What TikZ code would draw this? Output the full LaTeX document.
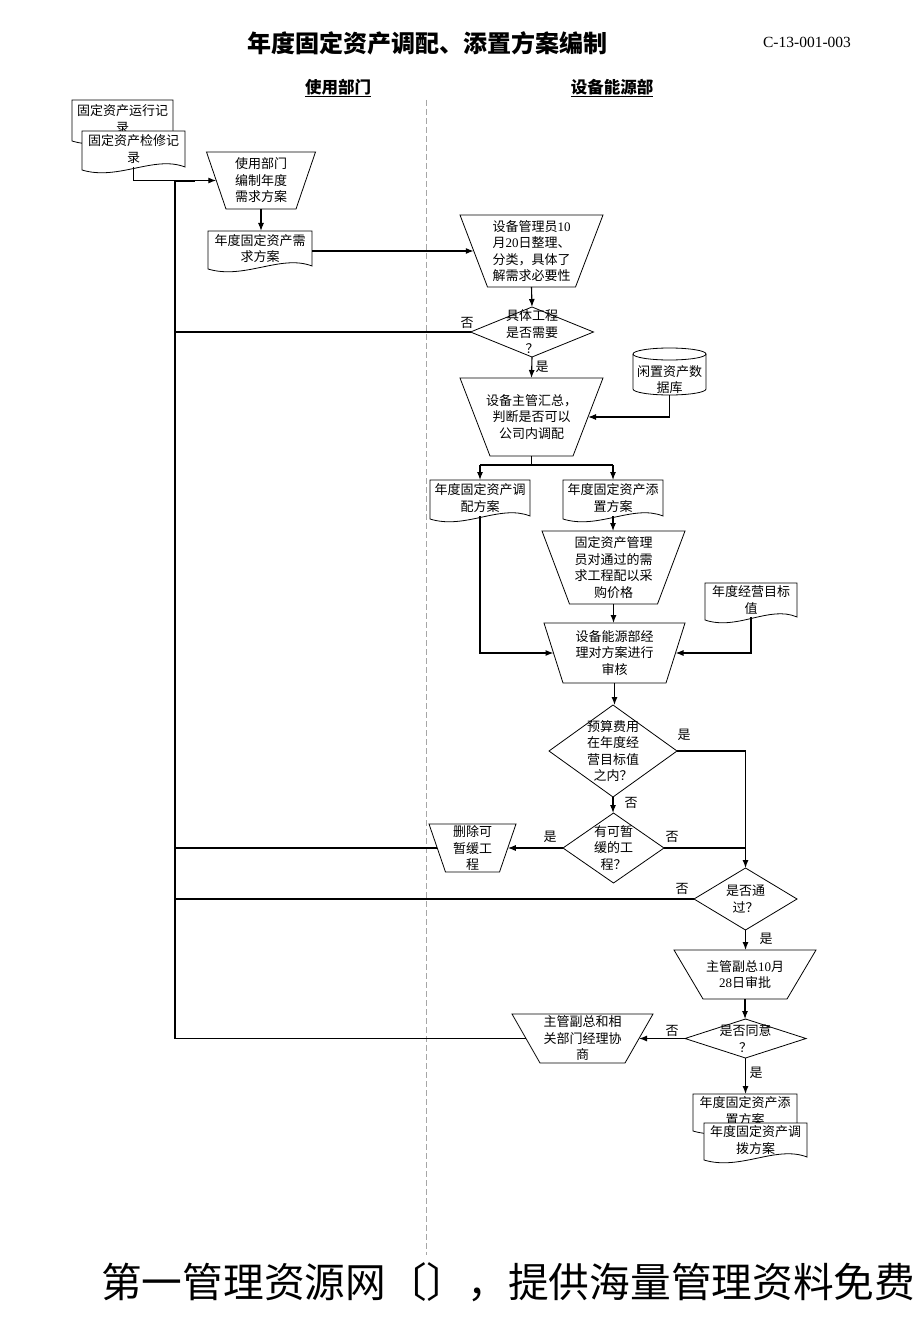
\documentclass[tikz,border=0pt]{standalone}
\usepackage{fontspec}
\setmainfont{Liberation Serif}
\newfontfamily\cjk{Noto Sans CJK SC}
\newfontfamily\latf{Liberation Serif}
\usetikzlibrary{calc,arrows.meta}

\tikzset{
 box/.style={rectangle, draw=none, inner sep=0pt, outer sep=0pt},
 shapeline/.style={draw=black, line width=0.8pt, line join=miter},
 txt/.style={font=\cjk\fontsize{13}{16.5}\selectfont, align=center, inner sep=0pt},
 lbl/.style={font=\cjk\fontsize{13}{15}\selectfont, inner sep=0pt},
 conn/.style={draw=black, line width=1.1pt},
 mainln/.style={draw=black, line width=1.5pt},
 arr/.style={conn, -{Latex[length=8pt,width=6pt]}},
 lane/.style={font=\cjk\bfseries\fontsize{16.5}{20}\selectfont, inner sep=0pt},
}

% name, cx, cy, topw, botw, h, text
\newcommand{\mktrap}[7]{%
 \node[box, minimum width=#4pt, minimum height=#6pt] (#1) at (#2,#3) {};
 \draw[shapeline] (#1.north west) -- (#1.north east) -- ($(#1.south east)+({-(#4-#5)/2},0)$) -- ($(#1.south west)+({(#4-#5)/2},0)$) -- cycle;
 \coordinate (#1-l) at ($(#1.west)+({(#4-#5)/4},0)$);
 \coordinate (#1-r) at ($(#1.east)+({-(#4-#5)/4},0)$);
 \node[txt] (#1-t) at (#1.center) {#7};
}
% name, cx, cy, w, h, text
\newcommand{\mkdoc}[6]{%
 \node[box, minimum width=#4pt, minimum height=#5pt] (#1) at (#2,#3) {};
 \draw[shapeline, fill=white] (#1.north west) -- (#1.north east) -- (#1.south east) .. controls ($(#1.south east)+({-0.3*#4},-12)$) and ($(#1.south west)+({0.35*#4},14)$) .. ($(#1.south west)+(0,3)$) -- cycle;
 \node[txt] (#1-t) at (#1.center) {#6};
}
% name, cx, cy, w, h, text
\newcommand{\mkdiamond}[6]{%
 \node[box, minimum width=#4pt, minimum height=#5pt] (#1) at (#2,#3) {};
 \draw[shapeline] (#1.north) -- (#1.east) -- (#1.south) -- (#1.west) -- cycle;
 \node[txt] (#1-t) at (#1.center) {#6};
}

\begin{document}
\begin{tikzpicture}[x=1pt,y=-1pt]
\fill[white] (0,0) rectangle (920,1329);
\useasboundingbox (0,0) rectangle (920,1329);

% headings
\node[font=\cjk\bfseries\fontsize{24}{28}\selectfont, inner sep=0pt] (title) at (427,43) {年度固定资产调配、添置方案编制};
\node[font=\latf\fontsize{15.5}{18}\selectfont, inner sep=0pt] (code) at (807,42) {C-13-001-003};
\node[lane] (lane1) at (338,88) {\underline{使用部门}};
\node[lane] (lane2) at (612,88) {\underline{设备能源部}};

% lane divider
\coordinate (dvtop) at (426,100);
\coordinate (dvbot) at (426,1255);
\draw[gray!70, line width=0.9pt, dash pattern=on 6pt off 3pt] (dvtop) -- (dvbot);

% shapes
\mkdoc{docA}{122.5}{119}{101}{38}{固定资产运行记\\录}
\mkdoc{docB}{133.5}{149}{103}{36}{固定资产检修记\\录}
\mktrap{t1}{261}{180.5}{109}{70}{57}{使用部门\\编制年度\\需求方案}
\mkdoc{doc3}{260}{248.5}{104}{35}{年度固定资产需\\求方案}
\mktrap{t2}{531.5}{251}{143}{88}{72}{设备管理员{\latf 10}\\月{\latf 20}日整理、\\分类，具体了\\解需求必要性}
\mkdiamond{d1}{532}{332}{123}{50}{具体工程\\是否需要\\？}
\mktrap{t3}{531.5}{417}{143}{83}{78}{设备主管汇总，\\判断是否可以\\公司内调配}
% database
\node[box, minimum width=73pt, minimum height=47pt] (db) at (669.5,371.5) {};
\draw[shapeline] (633,354) -- (633,389) arc[start angle=180, end angle=360, x radius=36.5pt, y radius=6pt] -- (706,354) arc[start angle=0, end angle=180, x radius=36.5pt, y radius=6pt];
\draw[shapeline] (633,354) arc[start angle=180, end angle=360, x radius=36.5pt, y radius=6pt];
\node[txt] (db-t) at (669.5,379.5) {闲置资产数\\据库};

\mkdoc{doc4}{480}{498}{100}{36}{年度固定资产调\\配方案}
\mkdoc{doc5}{613}{498}{100}{36}{年度固定资产添\\置方案}
\mktrap{t4}{613.5}{567.5}{143}{88}{73}{固定资产管理\\员对通过的需\\求工程配以采\\购价格}
\mkdoc{doc6}{751}{600}{92}{34}{年度经营目标\\值}
\mktrap{t5}{614.5}{653}{141}{103}{60}{设备能源部经\\理对方案进行\\审核}
\mkdiamond{d2}{613}{751}{128}{92}{预算费用\\在年度经\\营目标值\\之内？}
\mkdiamond{d3}{613.5}{848}{101}{70}{有可暂\\缓的工\\程？}
\mktrap{t6}{472.5}{848}{87}{54}{48}{删除可\\暂缓工\\程}
\mkdiamond{d4}{745.5}{899}{103}{62}{是否通\\过？}
\mktrap{t7}{745}{974.5}{142}{84}{49}{主管副总{\latf 10}月\\{\latf 28}日审批}
\mkdiamond{d5}{745.5}{1038.5}{121}{39}{是否同意\\？}
\mktrap{t8}{582.5}{1038.5}{141}{85}{49}{主管副总和相\\关部门经理协\\商}
\mkdoc{doc7}{745}{1111}{104}{34}{年度固定资产添\\置方案}
\mkdoc{doc8}{755.5}{1140}{103}{34}{年度固定资产调\\拨方案}

% main return line
\coordinate (mtop) at (175,181);
\coordinate (mbot) at (175,1038.5);
\draw[mainln] (mtop) -- (mbot);

% connectors
\draw[arr] (docB.south) |- (t1-l);
\draw[mainln] (mtop) -- ($(mtop)+(20,0)$);
\draw[arr] (t1.south) -- (t1.south |- doc3.north);
\draw[arr] (doc3.east |- t2-l) -- (t2-l);
\draw[arr] (t2.south) -- (d1.north);
\draw[conn] (d1.west) -- (d1.west -| mtop);
\draw[arr] (d1.south) -- (t3.north);
\draw[arr] (db.south) |- (t3-r);
\coordinate (sp) at (531.5,465);
\draw[conn] (t3.south) -- (sp);
\draw[conn] (doc4.north |- sp) -- (doc5.north |- sp);
\draw[arr] (doc4.north |- sp) -- (doc4.north);
\draw[arr] (doc5.north |- sp) -- (doc5.north);
\draw[arr] (doc5.south) -- (doc5.south |- t4.north);
\draw[arr] (t4.south) -- (t4.south |- t5.north);
\draw[arr] (doc4.south) |- (t5-l);
\draw[arr] (doc6.south) |- (t5-r);
\draw[arr] (t5.south) -- (t5.south |- d2.north);
\draw[arr] (d2.east) -| (d4.north);
\draw[arr] (d2.south) -- (d2.south |- d3.north);
\draw[conn] (d3.east) -- (d3.east -| d4.north);
\draw[arr] (d3.west) -- (t6-r);
\draw[conn] (t6-l) -- (t6-l -| mtop);
\draw[conn] (d4.west) -- (d4.west -| mtop);
\draw[arr] (d4.south) -- (d4.south |- t7.north);
\draw[arr] (t7.south) -- (t7.south |- d5.north);
\draw[arr] (d5.west) -- (t8-r);
\draw[conn] (t8-l) -- (mbot);
\draw[arr] (d5.south) -- (d5.south |- doc7.north);

% labels
\node[lbl] (l1) at (467,323) {否};
\node[lbl] (l2) at (542,367) {是};
\node[lbl] (l3) at (684,735) {是};
\node[lbl] (l4) at (631,803) {否};
\node[lbl] (l5) at (672,837) {否};
\node[lbl] (l6) at (550,837) {是};
\node[lbl] (l7) at (682,889) {否};
\node[lbl] (l8) at (766,939) {是};
\node[lbl] (l9) at (672,1031) {否};
\node[lbl] (l10) at (756,1073) {是};

% footer
\node[anchor=west, font=\cjk\fontsize{40.7}{48}\selectfont, inner sep=0pt] (foot) at (101,1282) {第一管理资源网〔〕，提供海量管理资料免费};
\end{tikzpicture}
\end{document}
